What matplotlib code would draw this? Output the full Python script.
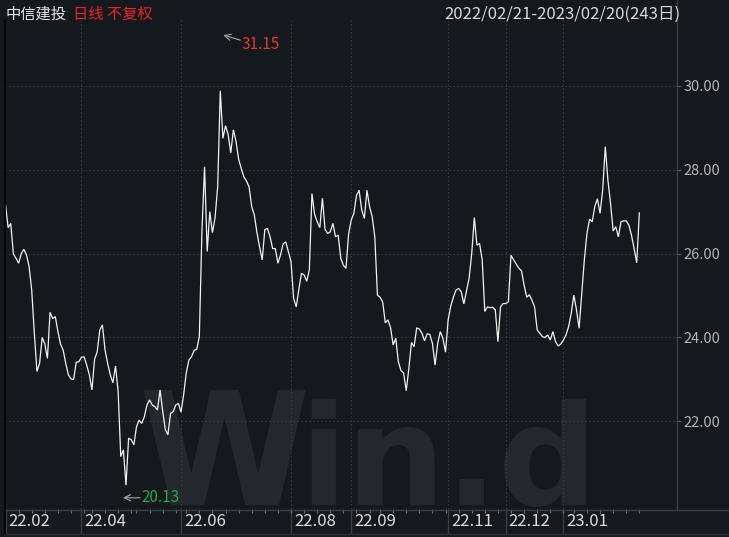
import matplotlib
matplotlib.use('Agg')
import matplotlib.pyplot as plt
import matplotlib.transforms as mtrans
from matplotlib.lines import Line2D
import pandas as pd

# ---------------- data ----------------
stock_name = '中信建投'
period_text = '日线 不复权'
range_text = '2022/02/21-2023/02/20(243日)'
start_date, end_date = '2022-02-21', '2023-02-20'
holidays = ['2022-04-04', '2022-04-05', '2022-05-02', '2022-05-03', '2022-05-04',
            '2022-06-03', '2022-09-12', '2022-10-03', '2022-10-04', '2022-10-05',
            '2022-10-06', '2022-10-07', '2023-01-02', '2023-01-23', '2023-01-24',
            '2023-01-25', '2023-01-26', '2023-01-27']

close = [
    27.16, 26.62, 26.72, 25.99, 25.89, 25.77, 26.00, 26.10, 25.97, 25.69,
    25.13, 24.10, 23.19, 23.38, 24.00, 23.85, 23.50, 24.60, 24.45, 24.50,
    24.14, 23.84, 23.70, 23.38, 23.11, 23.01, 23.00, 23.41, 23.42, 23.53,
    23.54, 23.34, 23.11, 22.75, 23.48, 23.66, 24.18, 24.30, 23.70, 23.38,
    23.11, 22.92, 23.32, 22.71, 21.16, 21.32, 20.48, 21.60, 21.56, 21.44,
    21.87, 22.03, 21.95, 22.11, 22.39, 22.51, 22.39, 22.35, 22.27, 22.75,
    22.25, 21.81, 21.68, 22.19, 22.23, 22.39, 22.43, 22.22, 22.63, 23.15,
    23.46, 23.54, 23.69, 23.72, 24.02, 26.56, 28.07, 26.05, 27.00, 26.50,
    26.85, 27.60, 29.88, 28.75, 29.05, 28.84, 28.40, 28.95, 28.68, 28.25,
    28.03, 27.83, 27.73, 27.59, 27.12, 26.92, 26.50, 26.16, 25.85, 26.57,
    26.60, 26.40, 26.12, 26.12, 25.77, 25.97, 26.23, 26.28, 26.04, 25.81,
    24.93, 24.73, 25.15, 25.53, 25.49, 25.34, 25.61, 27.43, 26.94, 26.76,
    26.62, 27.32, 26.58, 26.48, 26.52, 26.72, 26.40, 26.44, 25.89, 25.72,
    25.65, 26.47, 26.80, 26.96, 27.39, 27.51, 27.04, 26.84, 27.51, 27.12,
    26.88, 26.40, 25.01, 24.96, 24.85, 24.35, 24.42, 24.24, 23.82, 23.98,
    23.42, 23.21, 23.15, 22.73, 23.26, 23.88, 23.78, 24.23, 24.20, 24.10,
    23.92, 24.09, 24.07, 23.86, 23.34, 23.86, 24.14, 23.98, 23.65, 24.42,
    24.75, 24.96, 25.13, 25.17, 25.09, 24.80, 25.11, 25.41, 26.00, 26.86,
    26.20, 26.24, 25.85, 24.62, 24.73, 24.71, 24.72, 24.66, 23.90, 24.73,
    24.81, 24.81, 24.85, 25.96, 25.85, 25.75, 25.65, 25.59, 25.25, 24.96,
    25.02, 24.89, 24.73, 24.18, 24.10, 24.02, 24.00, 24.06, 23.94, 24.14,
    23.90, 23.80, 23.84, 23.94, 24.06, 24.26, 24.58, 25.01, 24.66, 24.22,
    25.05, 25.85, 26.48, 26.82, 26.76, 27.12, 27.31, 26.96, 27.51, 28.55,
    27.75, 27.20, 26.54, 26.64, 26.40, 26.76, 26.78, 26.78, 26.68, 26.44,
    26.12, 25.78, 26.97,
]

high_value, high_index = 31.15, 82
low_value, low_index = 20.13, 46
y_ticks = [22, 24, 26, 28, 30]
label_months = ['2022-02', '2022-04', '2022-06', '2022-08', '2022-09',
                '2022-11', '2022-12', '2023-01']
month_labels = ['22.02', '22.04', '22.06', '22.08', '22.09', '22.11', '22.12', '23.01']

# ---------------- calendar ----------------
dates = pd.bdate_range(start_date, end_date)
dates = dates[~dates.isin(pd.to_datetime(holidays))]
ym = dates.strftime('%Y-%m')
month_idx = [int((ym == m).argmax()) for m in label_months]
wk = dates.isocalendar().week.values
week_idx = [i for i in range(1, len(dates)) if wk[i] != wk[i - 1]]

# ---------------- style ----------------
BG = '#15181c'
GRID = '#3c3f45'
AXLINE = '#3a3d42'
FONT = ['Noto Sans CJK SC', 'DejaVu Sans']
plt.rcParams['font.family'] = FONT

W, H = 729, 537
fig = plt.figure(figsize=(W / 100, H / 100), dpi=100, facecolor=BG)
L, R, T, B = 5, 676, 20, 509
ax = fig.add_axes([L / W, 1 - B / H, (R - L) / W, (B - T) / H])
ax.set_facecolor('none')

x = list(range(len(close)))
ax.plot(x, close, color='#f2f2f2', lw=0.9, zorder=3, solid_joinstyle='miter')
ax.set_xlim(-0.2, 256.0)
ax.set_ylim(19.91, 31.57)

# grid
for yv in y_ticks:
    ax.axhline(yv, color=GRID, lw=0.8, ls=(0, (1.2, 2.4)), zorder=1)
for mi in month_idx[1:]:
    ax.axvline(mi, color=GRID, lw=0.8, ls=(0, (1.2, 2.4)), zorder=1)

for s in ax.spines.values():
    s.set_visible(False)

# y axis on the right
ax.yaxis.tick_right()
ax.set_yticks(y_ticks)
ax.set_yticklabels([f'{v:.2f}' for v in y_ticks])
ax.tick_params(axis='y', length=3.5, width=0.8, color='#55585e', labelcolor='#b4b4b4',
               labelsize=10.5, pad=2)
ax.set_xticks([])

# watermark (behind the axes)
wm = dict(fontweight='bold', family='DejaVu Sans', color='#24272b', va='baseline', zorder=-5)
fig.text(224 / W, 1 - 505 / H, 'W', ha='center', fontsize=112, **wm)
fig.text(598 / W, 1 - 505 / H, 'in.d', ha='right', fontsize=100, **wm)

# bottom strip: separators, weekly ticks, labels
xt = ax.get_xaxis_transform()
ph = B - T
ax.vlines(month_idx, -25 / ph, 0, transform=xt, color=AXLINE, lw=1, clip_on=False)
ax.vlines(week_idx, -3.5 / ph, 0, transform=xt, color='#6e7176', lw=0.8, clip_on=False)
lt = mtrans.offset_copy(xt, fig=fig, x=3, y=0, units='dots')
for mi, lab in zip(month_idx, month_labels):
    ax.text(mi, -13 / ph, lab, transform=lt, ha='left', va='center',
            fontsize=12, color='#dcdcdc', clip_on=False)

# figure lines
def fline(x0, y0, x1, y1, c, lw=1.0):
    fig.add_artist(Line2D([x0 / W, x1 / W], [1 - y0 / H, 1 - y1 / H], color=c, lw=lw,
                          transform=fig.transFigure))

fline(676.5, 0, 676.5, 509, AXLINE)
fline(4, B + 0.5, W, B + 0.5, AXLINE)
fline(4, 533.5, W, 533.5, '#2c2f34')
fline(4.5, 20, 4.5, 534, '#000000', 1.2)

# high / low annotations (arrow tip placed like the reference, slightly off the point)
arrow = dict(arrowstyle='->,head_length=0.45,head_width=0.22', color='#a8a8a8',
             lw=0.8, shrinkA=0, shrinkB=0)
hi_tip = mtrans.offset_copy(ax.transData, fig=fig, x=3, y=2.5, units='dots')
ax.annotate('', xy=(high_index, high_value), xycoords=hi_tip, xytext=(17, -5),
            textcoords='offset pixels', arrowprops=arrow, annotation_clip=False)
ax.annotate(f'{high_value:.2f}', xy=(high_index, high_value), xytext=(21, -6.5),
            textcoords='offset pixels', ha='left', va='center', fontsize=11,
            color='#e03a3a', annotation_clip=False)
lo_tip = mtrans.offset_copy(ax.transData, fig=fig, x=-3, y=2, units='dots')
ax.annotate('', xy=(low_index, low_value), xycoords=lo_tip, xytext=(17, 0),
            textcoords='offset pixels', arrowprops=arrow, annotation_clip=False)
ax.annotate(f'{low_value:.2f}', xy=(low_index, low_value), xytext=(15.5, 2),
            textcoords='offset pixels', ha='left', va='center', fontsize=11,
            color='#23a84e', annotation_clip=False)

# header texts
fig.text(6 / W, 1 - 14 / H, stock_name, ha='left', va='center', fontsize=11, color='#e8e8e8')
fig.text(73 / W, 1 - 14 / H, period_text, ha='left', va='center', fontsize=11, color='#e8232a')
fig.text(680 / W, 1 - 14 / H, range_text, ha='right', va='center', fontsize=12, color='#d8d8d8')

fig.savefig('out.png', dpi=100, facecolor=BG)
